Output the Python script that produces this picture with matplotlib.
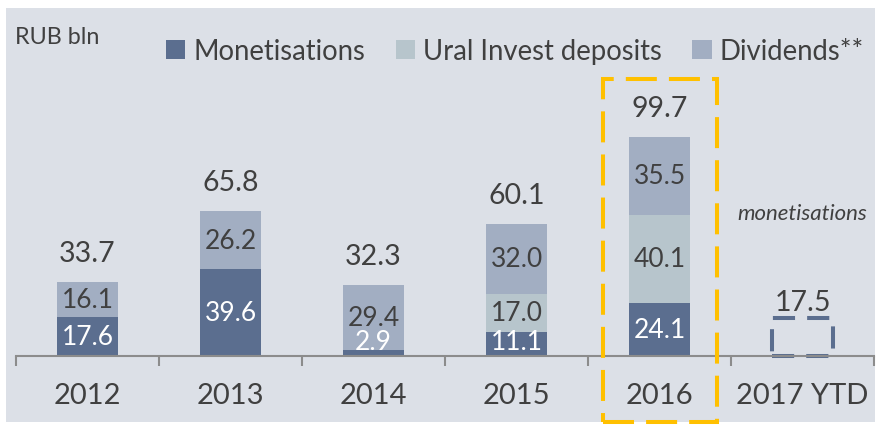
import matplotlib
matplotlib.use("Agg")
import matplotlib.pyplot as plt
from matplotlib.patches import Rectangle, Patch
import numpy as np

plt.rcParams['font.family'] = ['Lato', 'DejaVu Sans']

years = ['2012', '2013', '2014', '2015', '2016', '2017 YTD']
monetisations = [17.6, 39.6, 2.9, 11.1, 24.1, 17.5]
ural_deposits = [0.0, 0.0, 0.0, 17.0, 40.1, 0.0]
dividends = [16.1, 26.2, 29.4, 32.0, 35.5, 0.0]
totals = [33.7, 65.8, 32.3, 60.1, 99.7, 17.5]
legend_labels = ['Monetisations', 'Ural Invest deposits', 'Dividends**']

C_MON = '#5B6E8F'
C_URAL = '#B7C5CC'
C_DIV = '#A2AEC2'
BG = '#DCE0E7'
TXT = '#404040'
YELLOW = '#FFC000'

W, H = 876, 431
fig = plt.figure(figsize=(W / 100, H / 100), dpi=100)
fig.patch.set_facecolor('white')
fig.patches.append(Rectangle((6 / W, 1 - 423 / H), (875 - 6) / W, (423 - 9) / H,
                             transform=fig.transFigure, facecolor=BG, edgecolor='none', zorder=-10))

base_px = 357
scale = 2.2  # px per unit
ax = fig.add_axes([16 / W, 1 - base_px / H, 858 / W, (base_px - 9) / H])
ax.set_facecolor('none')
ax.set_xlim(-0.5, len(years) - 0.5)
ax.set_ylim(0, (base_px - 9) / scale)

x = np.arange(len(years))
bw = 0.42
n_solid = 5
xs = x[:n_solid]
mon = np.array(monetisations)
ural = np.array(ural_deposits)
div = np.array(dividends)

ax.bar(xs, mon[:n_solid], bw, color=C_MON, zorder=2)
ax.bar(xs, ural[:n_solid], bw, bottom=mon[:n_solid], color=C_URAL, zorder=2)
ax.bar(xs, div[:n_solid], bw, bottom=(mon + ural)[:n_solid], color=C_DIV, zorder=2)

# 2017 YTD dashed outline bar
ax.bar(x[5], mon[5], bw, facecolor='none', edgecolor=C_MON, linewidth=2.9,
       linestyle=(0, (5.5, 3)), zorder=2, clip_on=False)

# segment labels
fs_seg = 19
for i in range(n_solid):
    if mon[i] > 0:
        yy = max(mon[i] / 2, 6.8)
        ax.text(x[i], yy, f'{mon[i]:.1f}', ha='center', va='center', color='white', fontsize=fs_seg, zorder=3)
    if ural[i] > 0:
        ax.text(x[i], mon[i] + ural[i] / 2, f'{ural[i]:.1f}', ha='center', va='center', color=TXT, fontsize=fs_seg, zorder=3)
    if div[i] > 0:
        ax.text(x[i], mon[i] + ural[i] + div[i] / 2, f'{div[i]:.1f}', ha='center', va='center', color=TXT, fontsize=fs_seg, zorder=3)

# totals
for i in range(n_solid):
    ax.text(x[i], totals[i] + 13.2, f'{totals[i]:.1f}', ha='center', va='center', color=TXT, fontsize=20.5)
ax.text(x[5], totals[5] + 7.2, f'{totals[5]:.1f}', ha='center', va='center', color=TXT, fontsize=20.5)
ax.text(x[5], totals[5] + 47.5, 'monetisations', ha='center', va='center', color=TXT, fontsize=16, style='italic')

# highlight box around 2016
ax.add_patch(Rectangle((3.605, -30.0), 0.797, 156.0, facecolor='none', edgecolor=YELLOW,
                       linewidth=2.9, linestyle=(0, (7.7, 3)), clip_on=False, zorder=4))

# axes styling
for s in ['top', 'right', 'left']:
    ax.spines[s].set_visible(False)
ax.spines['bottom'].set_color('#8C8C8C')
ax.spines['bottom'].set_linewidth(1.5)
ax.set_yticks([])
ax.set_xticks(x)
ax.set_xticklabels(years, fontsize=21, color=TXT)
ax.tick_params(axis='x', which='major', length=0, pad=19)
ax.set_xticks(np.arange(-0.5, len(years)), minor=True)
ax.tick_params(axis='x', which='minor', length=7.5, width=1.5, color='#8C8C8C', direction='out')

# unit label
fig.text(15 / W, 1 - 37 / H, 'RUB bln', ha='left', va='center', color=TXT, fontsize=16.8)

# legend
handles = [Patch(facecolor=c, edgecolor='none') for c in (C_MON, C_URAL, C_DIV)]
fig.legend(handles, legend_labels, loc='center', bbox_to_anchor=(515 / W, 1 - 52 / H), ncol=3,
           frameon=False, fontsize=19.8, handlelength=0.7, handleheight=0.7, handletextpad=0.3,
           columnspacing=1.1, labelcolor=TXT, borderaxespad=0, borderpad=0)

fig.savefig('out.png', dpi=100, facecolor='white')
